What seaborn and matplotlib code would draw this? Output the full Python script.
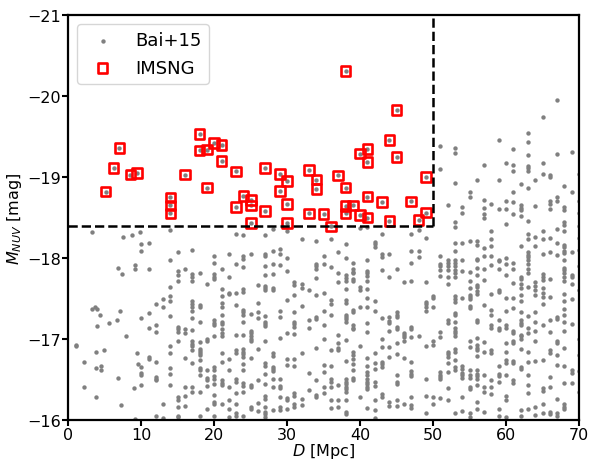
import matplotlib
matplotlib.use("Agg")
import matplotlib.pyplot as plt
import seaborn as sns

# -------------------------------------------------
# Bai+15 galaxies at small distance (scattered D values)
# -------------------------------------------------
near_d = [3.3, 7.5, 8.7, 9.8, 9.9, 11.0, 10.0, 6.8, 7.3, 9.1,
          9.2, 11.0, 3.3, 3.7, 3.9, 4.4, 7.1, 6.7, 10.0, 11.0,
          1.0, 1.1, 2.2, 2.1, 3.8, 4.9, 3.8, 4.5, 4.5, 3.8,
          3.9, 5.6, 7.9, 6.8, 7.2, 9.0, 9.4, 9.5, 10.0, 10.0,
          10.0, 10.0, 11.0, 11.0, 11.0, 9.2]
near_m = [-18.32, -18.26, -18.29, -18.32, -18.17, -18.19, -18.09, -17.88, -17.80, -17.91,
          -17.87, -17.87, -17.37, -17.40, -17.37, -17.29, -17.34, -17.24, -17.26, -17.32,
          -16.92, -16.91, -16.72, -16.40, -16.84, -16.86, -16.64, -16.67, -16.61, -16.28,
          -17.16, -17.20, -17.03, -16.52, -16.18, -16.39, -16.83, -16.69, -16.65, -16.58,
          -16.56, -16.43, -16.78, -16.75, -17.13, -16.01]

# Bai+15 galaxies further out sit on whole-Mpc distances
col_d = [12, 13, 14, 15, 16, 17, 18, 19, 20, 21,
         22, 23, 24, 25, 26, 27, 28, 29, 30, 31,
         32, 33, 34, 35, 36, 37, 38, 39, 40, 41,
         42, 43, 44, 45, 46, 47, 48, 49, 50, 51,
         52, 53, 54, 55, 56, 57, 58, 59, 60, 61,
         62, 63, 64, 65, 66, 67, 68, 69, 70]
col_m = [
    [-17.43, -17.17, -17.09, -16.72, -16.53, -16.51, -16.49, -16.05],  # 12
    [-17.49, -17.39, -16.20, -16.02],  # 13
    [-18.35, -17.98, -17.64, -17.53, -17.47, -17.28, -16.91, -16.82, -16.64, -16.57, -16.43],  # 14
    [-18.07, -17.84, -17.79, -17.71, -17.15, -17.12, -17.08, -16.98, -16.28, -16.25, -16.16,
     -16.05, -16.03],  # 15
    [-17.87, -17.12, -17.07, -16.76, -16.40, -16.29, -16.17],  # 16
    [-18.10, -17.80, -17.77, -17.72, -17.47, -17.43, -17.40, -17.34, -17.26, -17.11, -16.98,
     -16.94, -16.91, -16.86, -16.70, -16.40, -16.34],  # 17
    [-17.82, -17.42, -17.39, -17.21, -16.96, -16.88, -16.85, -16.82, -16.80, -16.74, -16.64,
     -16.61, -16.56, -16.35, -16.05],  # 18
    [-17.68, -17.00, -16.97, -16.61, -16.52, -16.49, -16.42, -16.14],  # 19
    [-18.02, -17.94, -17.80, -17.77, -17.74, -17.23, -17.20, -17.17, -17.04, -16.65, -16.61,
     -16.54, -16.51, -16.44, -16.31, -16.22, -16.19, -16.05],  # 20
    [-17.86, -17.62, -17.53, -17.44, -17.39, -17.30, -17.21, -17.18, -17.12, -17.07, -17.03,
     -16.82, -16.71, -16.49, -16.46, -16.43, -16.19],  # 21
    [-18.05, -17.76, -17.57, -17.55, -16.75, -16.61, -16.40, -16.24, -16.13, -16.04],  # 22
    [-18.30, -17.92, -17.57, -17.42, -17.05, -16.86, -16.82, -16.51, -16.47, -16.33, -16.20,
     -16.08, -16.05],  # 23
    [-18.28, -18.02, -17.99, -17.89, -17.62, -17.58, -17.36, -17.33, -17.30, -17.21, -17.05,
     -16.87, -16.84, -16.81, -16.78, -16.69, -16.61, -16.45, -16.42, -16.34, -16.05],  # 24
    [-18.05, -17.31, -17.10, -17.07, -17.04, -17.00, -16.98, -16.76, -16.43, -16.41, -16.16,
     -16.13],  # 25
    [-17.67, -17.44, -17.33, -17.26, -16.87, -16.49, -16.21, -16.11],  # 26
    [-18.29, -18.05, -18.02, -17.90, -17.79, -17.66, -17.63, -17.60, -17.28, -17.21, -17.19,
     -17.16, -16.97, -16.70, -16.67, -16.57, -16.44, -16.30, -16.26, -16.16, -16.10, -16.07,
     -16.04],  # 27
    [-18.36, -18.09, -17.92, -17.80, -17.63, -17.61, -16.82, -16.79, -16.65, -16.63, -16.60,
     -16.51, -16.40, -16.12],  # 28
    [-18.11, -18.05, -17.91, -17.34, -17.27, -17.01, -16.51, -16.42, -16.39, -16.28, -16.16,
     -16.12],  # 29
    [-18.33, -18.00, -17.84, -17.48, -17.07, -16.75, -16.68, -16.27, -16.24, -16.14],  # 30
    [-17.70, -17.67, -17.54, -17.33, -17.21, -17.18, -17.15, -17.06, -16.75, -16.67, -16.33,
     -16.29, -16.19, -16.16],  # 31
    [-18.23, -17.68, -17.63, -17.41, -16.82, -16.26, -16.18],  # 32
    [-17.60, -17.23, -17.14, -16.58, -16.37],  # 33
    [-18.21, -17.93, -17.90, -17.86, -17.75, -17.54, -17.27, -17.25, -16.89, -16.49, -16.31,
     -16.28],  # 34
    [-18.03, -17.92, -17.57, -17.35, -17.17, -17.00, -16.68, -16.59, -16.40, -16.33],  # 35
    [-18.23, -17.89, -17.48, -17.43, -17.30, -16.86, -16.66, -16.50, -16.47, -16.40, -16.24,
     -16.15],  # 36
    [-18.08, -17.81, -17.70, -17.05, -16.95, -16.89, -16.86, -16.43, -16.25, -16.16],  # 37
    [-18.17, -18.00, -17.79, -17.75, -17.72, -17.62, -17.48, -17.45, -17.30, -17.27, -17.25,
     -17.21, -16.99, -16.73, -16.50, -16.47, -16.44, -16.41, -16.38, -16.35, -16.24, -16.10,
     -16.07],  # 38
    [-17.94, -17.86, -17.83, -17.81, -17.74, -17.71, -17.36, -17.33, -17.17, -17.14, -17.12,
     -16.84, -16.80, -16.75, -16.69, -16.61, -16.52, -16.49],  # 39
    [-18.37, -17.64, -17.61, -17.39, -16.91, -16.28],  # 40
    [-18.38, -17.98, -17.84, -17.81, -17.78, -17.71, -17.62, -17.51, -17.40, -17.20, -17.09,
     -16.76, -16.66, -16.59, -16.56, -16.50, -16.47, -16.44, -16.41, -16.38, -16.15],  # 41
    [-18.20, -18.17, -18.14, -17.47, -17.35, -16.82, -16.70, -16.63, -16.47, -16.42, -16.25,
     -16.12, -16.02],  # 42
    [-18.30, -18.05, -18.01, -17.85, -17.26, -17.00, -16.90, -16.72, -16.69, -16.65, -16.32,
     -16.28],  # 43
    [-18.05, -17.77, -17.27, -17.22, -17.20, -17.10, -16.90, -16.78, -16.22, -16.17],  # 44
    [-17.87, -17.33, -17.30, -17.27, -17.15, -17.12, -16.95, -16.81, -16.56, -16.47, -16.44,
     -16.24, -16.17],  # 45
    [-17.70, -17.07, -17.05, -17.02, -16.98, -16.76, -16.20],  # 46
    [-18.30, -18.09, -17.94, -17.71, -17.15, -17.12, -17.02, -16.71, -16.60, -16.57, -16.54,
     -16.28, -16.18, -16.15],  # 47
    [-18.34, -18.09, -18.01, -17.03],  # 48
    [-18.25, -17.70, -17.46, -17.43, -17.40, -17.34, -16.91, -16.51, -16.30, -16.08],  # 49
    [-17.53, -17.50, -17.40, -16.97, -16.92, -16.28, -16.19],  # 50
    [-19.38, -19.10, -18.02, -17.93, -17.90, -17.85, -17.78, -17.09, -17.02, -16.59, -16.56,
     -16.53, -16.50, -16.27],  # 51
    [-18.65, -17.98, -17.94, -17.90, -17.85, -17.76, -17.68, -17.23, -17.20, -16.84, -16.81,
     -16.78, -16.70, -16.59, -16.39, -16.24],  # 52
    [-19.36, -19.30, -18.93, -18.44, -18.38, -18.18, -18.09, -17.97, -17.94, -17.90, -17.85,
     -17.82, -17.77, -17.53, -17.49, -17.46, -17.32, -17.29, -17.21, -17.13, -17.10, -17.07,
     -17.04, -16.88, -16.84, -16.74, -16.65, -16.61, -16.08],  # 53
    [-18.63, -18.56, -18.19, -17.98, -17.84, -17.51, -16.66, -16.63, -16.58, -16.55, -16.52,
     -16.28, -16.11],  # 54
    [-18.82, -18.76, -18.21, -17.83, -17.72, -17.63, -17.54, -17.52, -17.49, -17.41, -17.38,
     -16.98, -16.90, -16.62, -16.56, -16.52, -16.41, -16.38, -16.08, -16.04],  # 55
    [-18.96, -18.21, -18.16, -17.99, -17.97, -17.88, -17.79, -17.67, -17.64, -17.59, -17.56,
     -17.23, -17.21, -17.01, -16.93, -16.89, -16.86, -16.79, -16.61, -16.57, -16.54, -16.51,
     -16.43, -16.22, -16.13],  # 56
    [-19.15, -18.72, -18.62, -18.54, -18.49, -18.12, -18.03, -17.87, -17.73, -17.42, -16.96,
     -16.84, -16.56, -16.40, -16.34, -16.10],  # 57
    [-18.67, -18.33, -18.24, -18.15, -18.02, -17.91, -17.56, -17.36, -17.30, -17.17, -17.14,
     -16.86, -16.83, -16.49, -16.41, -16.32],  # 58
    [-19.46, -18.97, -18.60, -17.98, -17.96, -17.86, -17.61, -17.58, -17.23, -17.13, -17.11,
     -16.67, -16.57, -16.54, -16.47, -16.14, -16.05],  # 59
    [-19.18, -18.70, -18.61, -18.42, -18.00, -17.92, -17.79, -17.51, -17.35, -17.17, -17.14,
     -16.95, -16.84, -16.74, -16.70, -16.56, -16.30, -16.24, -16.04],  # 60
    [-19.35, -19.15, -19.07, -18.82, -18.69, -18.54, -17.94, -17.87, -17.69, -17.50, -17.38,
     -17.10, -17.07, -16.98, -16.95, -16.73, -16.70, -16.49, -16.46],  # 61
    [-18.91, -18.65, -18.62, -18.59, -18.52, -18.15, -17.77, -17.74, -17.68, -17.63, -17.54,
     -17.47, -17.33, -17.23, -17.20, -17.17, -17.05, -17.03, -17.00, -16.88, -16.65, -16.63,
     -16.12, -16.05],  # 62
    [-19.54, -19.43, -19.27, -19.14, -19.11, -19.08, -18.86, -18.46, -18.30, -18.24, -18.07,
     -18.04, -18.01, -17.97, -17.93, -17.86, -17.81, -17.64, -17.28, -17.14, -17.07, -16.84,
     -16.72, -16.55, -16.43, -16.33, -16.14],  # 63
    [-18.97, -18.64, -18.26, -18.15, -17.70, -17.66, -17.60, -17.54, -17.33, -17.21, -17.10,
     -16.97, -16.73, -16.16, -16.06],  # 64
    [-19.74, -19.18, -19.04, -18.33, -18.23, -18.05, -17.80, -17.77, -17.73, -17.63, -17.57,
     -17.52, -17.43, -17.17, -16.74, -16.39, -16.36, -16.19, -16.09],  # 65
    [-19.03, -19.00, -18.70, -18.67, -18.60, -18.25, -18.07, -17.74, -17.52, -17.24, -17.09,
     -16.86, -16.83, -16.53, -16.41, -16.10, -16.07],  # 66
    [-19.95, -19.28, -18.75, -18.70, -18.36, -18.18, -18.04, -17.27, -17.25, -16.98, -16.95,
     -16.80, -16.68, -16.26, -16.08, -16.05],  # 67
    [-18.89, -18.63, -18.59, -18.44, -18.41, -18.33, -18.16, -18.13, -18.09, -18.06, -17.97,
     -17.88, -17.85, -17.82, -17.77, -17.72, -17.56, -17.47, -17.37, -17.29, -17.21, -17.10,
     -16.89, -16.66, -16.46, -16.19, -16.16, -16.13],  # 68
    [-19.31, -18.82, -18.08, -17.79, -17.76, -17.68, -17.49, -17.19, -16.62, -16.58, -16.45],  # 69
    [-19.04, -18.70, -18.55, -18.40, -18.25, -18.10, -17.90, -17.60, -17.00, -16.80, -16.60,
     -16.35],  # 70
]

# -------------------------------------------------
# IMSNG galaxies
# -------------------------------------------------
imsng_d = [5.1, 6.2, 7.0, 8.5, 9.4, 14, 14, 14, 16, 18,
           18, 19, 19, 20, 21, 21, 23, 23, 24, 25,
           25, 25, 27, 27, 29, 29, 30, 30, 30, 33,
           33, 34, 34, 35, 36, 37, 38, 38, 38, 38,
           39, 40, 40, 41, 41, 41, 41, 43, 44, 44,
           45, 45, 47, 48, 49, 49]
imsng_m = [-18.82, -19.11, -19.36, -19.03, -19.05, -18.75, -18.65, -18.55, -19.03, -19.53,
           -19.33, -19.34, -18.87, -19.42, -19.40, -19.20, -19.07, -18.63, -18.77, -18.72,
           -18.65, -18.43, -19.11, -18.58, -19.04, -18.83, -18.95, -18.67, -18.43, -19.09,
           -18.55, -18.97, -18.85, -18.54, -18.39, -19.02, -20.31, -18.87, -18.64, -18.55,
           -18.65, -19.29, -18.53, -19.35, -19.19, -18.76, -18.50, -18.69, -19.46, -18.46,
           -19.83, -19.25, -18.70, -18.47, -19.00, -18.56]

# selection box
box_d = 50
box_m = -18.4

assert len(near_d) == len(near_m)
assert len(col_d) == len(col_m)
assert len(imsng_d) == len(imsng_m)

sns.set_style("ticks")
plt.rcParams["font.family"] = ["DejaVu Sans"]
plt.rcParams["text.color"] = "black"
plt.rcParams["axes.labelcolor"] = "black"
plt.rcParams["xtick.color"] = "black"
plt.rcParams["ytick.color"] = "black"

bai_d = near_d + [d for d, mags in zip(col_d, col_m) for _ in mags]
bai_m = near_m + [m for mags in col_m for m in mags]
# IMSNG galaxies are also in the Bai+15 sample
all_d = bai_d + imsng_d
all_m = bai_m + imsng_m

fig = plt.figure(figsize=(5.9, 4.64), dpi=100)
ax = fig.add_axes([0.1158, 0.093, 0.8656, 0.872])

sns.scatterplot(x=all_d, y=all_m, ax=ax, color="gray", s=10,
                linewidth=0, label="Bai+15")
sns.scatterplot(x=imsng_d, y=imsng_m, ax=ax, marker="s", s=48,
                facecolor="none", edgecolor="red", linewidth=1.9, label="IMSNG")

ax.plot([0, box_d], [box_m, box_m], "k--", lw=1.8)
ax.plot([box_d, box_d], [box_m, -21], "k--", lw=1.8)

ax.set_xlim(0, 70)
ax.set_ylim(-16, -21)
ax.set_xticks([0, 10, 20, 30, 40, 50, 60, 70])
ax.set_yticks([-21, -20, -19, -18, -17, -16])

ax.set_xlabel("$D$ [Mpc]", fontsize=11.5, labelpad=-1)
ax.set_ylabel("$M_{NUV}$ [mag]", fontsize=11.5, labelpad=2)
ax.tick_params(labelsize=11.5, width=1.5, length=4, pad=1.5, color="black")
for sp in ax.spines.values():
    sp.set_linewidth(1.6)
    sp.set_color("black")

ax.legend(loc="upper left", fontsize=13, frameon=True)

plt.savefig("out.png", dpi=100)
plt.close()
